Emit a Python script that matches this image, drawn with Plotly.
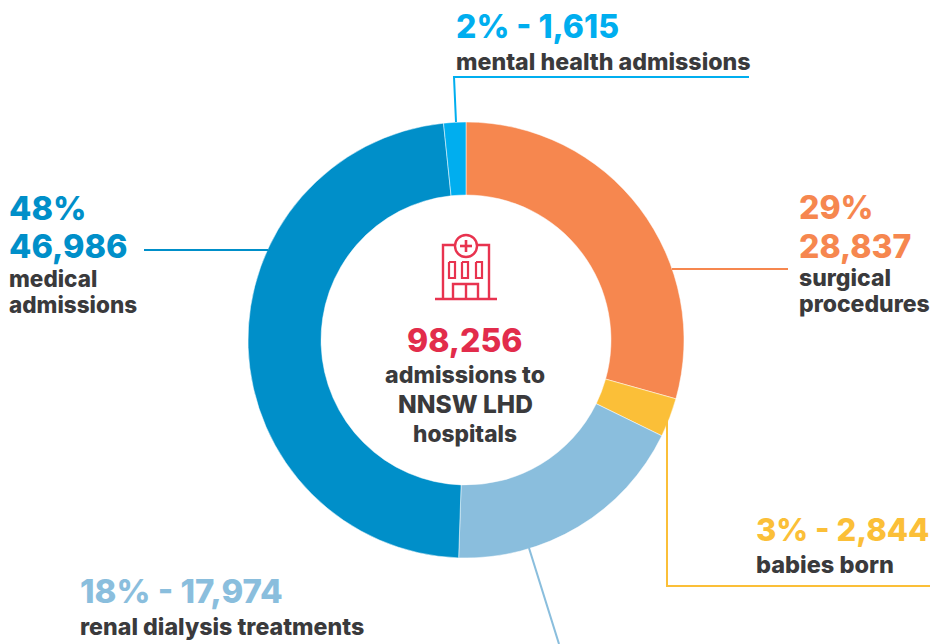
import plotly.graph_objects as go

W, H = 930, 644
categories = ["surgical procedures", "babies born", "renal dialysis treatments", "medical admissions", "mental health admissions"]
values = [28837, 2844, 17974, 46986, 1615]
colors = ["#F6874F", "#FBBF38", "#8ABEDD", "#008FC9", "#00AEEF"]
DARK = "#3A3A3C"
RED = "#E22C4B"
FONT = "Inter"

def fx(x): return x / W
def fy(y): return 1 - y / H

fig = go.Figure(go.Pie(
    labels=categories, values=values, sort=False, direction="clockwise", rotation=0,
    hole=0.665, marker=dict(colors=colors, line=dict(color="white", width=0.5)),
    textinfo="none", showlegend=False, hoverinfo="label+value",
    domain=dict(x=[fx(248), fx(684)], y=[fy(558), fy(122)]),
))

# text, x, y, size, colour, anchor
texts = [
    ("2% - 1,615", 456, 27, 32, "#00AEEF", "left"),
    ("mental health admissions", 456, 62, 23.2, DARK, "left"),
    ("48%", 9, 209, 32.5, "#008FC9", "left"),
    ("46,986", 9, 246, 32.5, "#008FC9", "left"),
    ("medical", 9, 278, 22.5, DARK, "left"),
    ("admissions", 9, 304, 22.5, DARK, "left"),
    ("29%", 799, 208, 32, "#F6874F", "left"),
    ("28,837", 799, 246, 32, "#F6874F", "left"),
    ("surgical", 799, 278, 23, DARK, "left"),
    ("procedures", 799, 304, 23, DARK, "left"),
    ("98,256", 465, 340, 32, RED, "center"),
    ("admissions to", 465, 375, 23.2, DARK, "center"),
    ("NNSW LHD", 465, 404, 24.5, DARK, "center"),
    ("hospitals", 465, 433, 22.7, DARK, "center"),
    ("3% - 2,844", 756, 529, 31, "#FBBF38", "left"),
    ("babies born", 756, 564, 23.5, DARK, "left"),
    ("18% - 17,974", 80, 591, 33, "#8ABEDD", "left"),
    ("renal dialysis treatments", 80, 627, 23.2, DARK, "left"),
]
for t, x, y, s, c, a in texts:
    fig.add_annotation(text=t, x=fx(x), y=fy(y), xref="paper", yref="paper", xanchor=a, yanchor="middle",
                       showarrow=False, font=dict(family=FONT, size=s, color=c, weight=800), borderpad=0, borderwidth=0)

def line(pts, color, width=2):
    path = "M " + " L ".join(f"{fx(x):.5f} {fy(y):.5f}" for x, y in pts)
    fig.add_shape(type="path", path=path, xref="paper", yref="paper", line=dict(color=color, width=width))

line([(749, 77), (454, 77), (456, 122)], "#00AEEF")
line([(144, 250), (268, 250)], "#008FC9")
line([(672, 269), (788, 269)], "#F6874F")
line([(667, 420), (667, 586), (930, 586)], "#FBBF38")
line([(529, 548), (559, 644)], "#8ABEDD")

# hospital icon
IC = "#E8334F"
line([(435, 299), (497, 299)], IC, 2.4)
line([(443, 299), (443, 245), (489, 245), (489, 299)], IC, 2.4)
fig.add_shape(type="circle", x0=fx(455), x1=fx(477), y0=fy(257), y1=fy(235), xref="paper", yref="paper",
              line=dict(color=IC, width=2.4), fillcolor="white")
line([(460, 246), (472, 246)], IC, 2.6)
line([(466, 240), (466, 252)], IC, 2.6)
for x0, x1 in [(449, 455), (462, 468), (476, 482)]:
    line([(x0, 262), (x1, 262), (x1, 278), (x0, 278), (x0, 262)], IC, 2.2)
line([(453, 299), (453, 284), (478, 284), (478, 299)], IC, 2.4)
line([(466, 284), (466, 299)], IC, 2.4)

fig.update_layout(width=W, height=H, margin=dict(l=0, r=0, t=0, b=0), paper_bgcolor="white", plot_bgcolor="white")
fig.write_html("out.html", config={"displayModeBar": False},
               post_script="document.body.style.margin='0';document.body.style.overflow='hidden';")
